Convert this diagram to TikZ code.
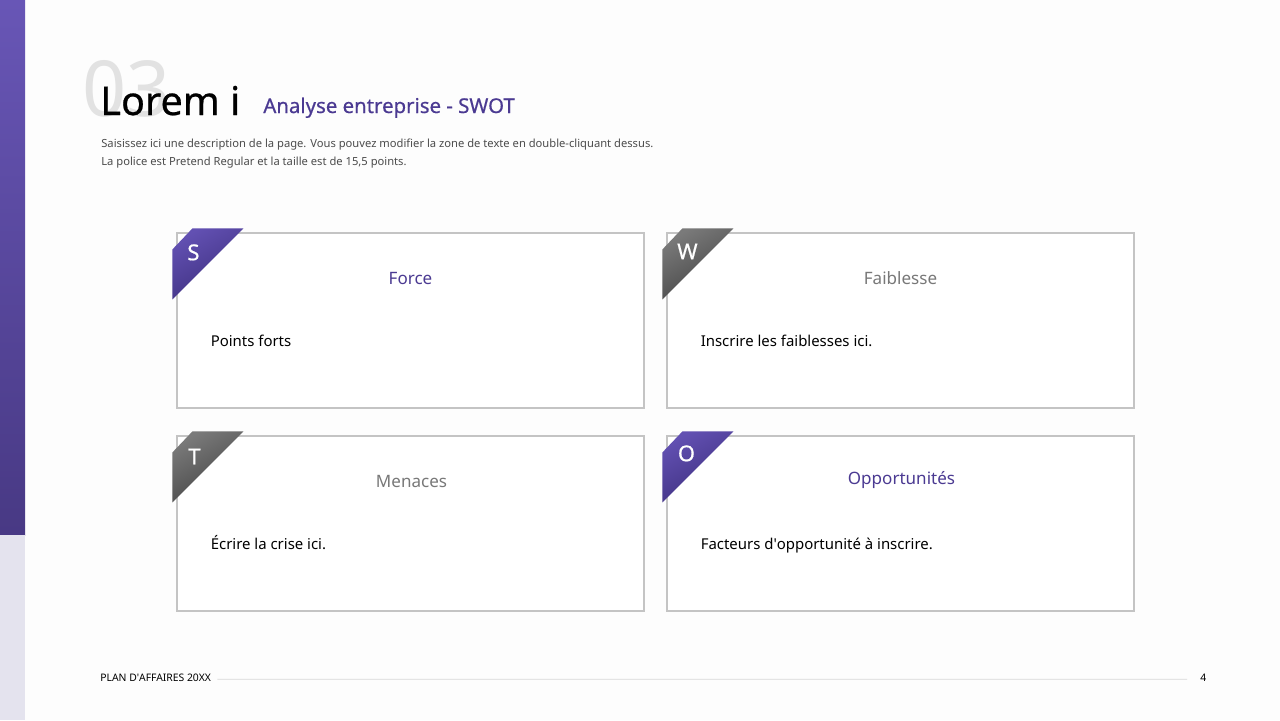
\documentclass[tikz,border=0pt]{standalone}
\definecolor{swot_page}{RGB}{253, 253, 253}
\definecolor{swot_bar_top}{RGB}{104, 86, 182}
\definecolor{swot_bar_low}{RGB}{72, 57, 132}
\definecolor{swot_lavender}{RGB}{228, 227, 238}
\definecolor{swot_violet}{RGB}{75, 58, 146}
\definecolor{swot_tab_top}{RGB}{98, 80, 178}
\definecolor{swot_tab_low}{RGB}{60, 46, 124}
\definecolor{swot_grey_top}{RGB}{122, 122, 122}
\definecolor{swot_grey_low}{RGB}{66, 66, 66}
\definecolor{swot_grey_text}{RGB}{120, 120, 120}
\definecolor{swot_border}{RGB}{196, 196, 196}
\definecolor{swot_ghost}{RGB}{226, 226, 226}
\definecolor{swot_rule}{RGB}{216, 216, 216}
\usepackage{fontspec}
\setmainfont{Noto Sans}
\newfontfamily\swotplain{Noto Sans}
\newfontfamily\swotmedium[FakeBold=0.6]{Noto Sans}
\usepackage{tikz}
\usetikzlibrary{calc}

\tikzset{
  card/.style={draw=swot_border, line width=0.7pt, fill=white,
               minimum width=9.34cm, minimum height=3.5cm, inner sep=0pt},
  cardtitle/.style={font=\fontsize{9.7}{12}\selectfont, inner sep=0pt},
  cardtext/.style={font=\fontsize{8.5}{11}\selectfont, anchor=base west, inner sep=0pt},
  tabletter/.style={font=\swotmedium\fontsize{12.5}{14}\selectfont, text=white, inner sep=0pt},
  tabviolet/.style={top color=swot_tab_top, bottom color=swot_tab_low, shading angle=30},
  tabgrey/.style={top color=swot_grey_top, bottom color=swot_grey_low, shading angle=30},
}

\begin{document}
\begin{tikzpicture}[x=0.02cm, y=-0.02cm]
  \fill[swot_page] (0,0) rectangle (1280,720);
  \useasboundingbox (0,0) rectangle (1280,720);
  % side bar
  \shade[top color=swot_bar_top, bottom color=swot_bar_low] (0,0) rectangle (25,535);
  \fill[swot_lavender] (0,535) rectangle (25,720);

  % heading
  \node[font=\fontsize{44}{46}\selectfont, text=swot_ghost, anchor=base west, inner sep=0pt]
    (ghost) at (82,116) {03};
  \node[font=\swotmedium\fontsize{22.5}{26}\selectfont, anchor=base west, inner sep=0pt]
    (title) at (100,115) {Lorem i};
  \node[font=\swotmedium\fontsize{11.6}{14}\selectfont, text=swot_violet, anchor=base west, inner sep=0pt]
    (subtitle) at (263,113) {Analyse entreprise - SWOT};
  \node[font=\fontsize{6.37}{10.2}\selectfont, text=black!70, anchor=north west,
        align=left, inner sep=0pt] (intro) at (101,139)
    {Saisissez ici une description de la page. Vous pouvez modifier la zone de texte en double-cliquant dessus.\\
     La police est Pretend Regular et la taille est de 15,5 points.};

  % cards
  \node[card] (force) at (410.5,320.5) {};
  \node[card] (faiblesse) at (900.5,320.5) {};
  \node[card] (menaces) at (410.5,523.5) {};
  \node[card] (opport) at (900.5,523.5) {};

  % corner ribbons
  \shade[tabviolet] ($(force.north west)+(16,-4)$) -- ++(51,0)
    -- ($(force.north west)+(-4,67)$) -- ++(0,-50) -- cycle;
  \shade[tabgrey] ($(faiblesse.north west)+(16,-4)$) -- ++(51,0)
    -- ($(faiblesse.north west)+(-4,67)$) -- ++(0,-50) -- cycle;
  \shade[tabgrey] ($(menaces.north west)+(16,-4)$) -- ++(51,0)
    -- ($(menaces.north west)+(-4,67)$) -- ++(0,-50) -- cycle;
  \shade[tabviolet] ($(opport.north west)+(16,-4)$) -- ++(51,0)
    -- ($(opport.north west)+(-4,67)$) -- ++(0,-50) -- cycle;
  \node[tabletter] (s) at ($(force.north west)+(17,20)$) {S};
  \node[tabletter] (w) at ($(faiblesse.north west)+(21,19)$) {W};
  \node[tabletter] (t) at ($(menaces.north west)+(18,21)$) {T};
  \node[tabletter] (o) at ($(opport.north west)+(20,18)$) {O};

  % card titles
  \node[cardtitle, text=swot_violet] (forcetitle) at ($(force.north)+(0,46)$) {Force};
  \node[cardtitle, text=swot_grey_text] (faiblessetitle) at ($(faiblesse.north)+(0,46)$) {Faiblesse};
  \node[cardtitle, text=swot_grey_text] (menacestitle) at ($(menaces.north)+(1,46)$) {Menaces};
  \node[cardtitle, text=swot_violet] (opporttitle) at ($(opport.north)+(1,45)$) {Opportunités};

  % card texts
  \node[cardtext] (forcetext) at ($(force.north west)+(34,114)$) {Points forts};
  \node[cardtext] (faiblessetext) at ($(faiblesse.north west)+(34,114)$) {Inscrire les faiblesses ici.};
  \node[cardtext] (menacestext) at ($(menaces.north west)+(34,114)$) {Écrire la crise ici.};
  \node[cardtext] (opporttext) at ($(opport.north west)+(34,114)$) {Facteurs d{\swotplain'}opportunité à inscrire.};

  % footer
  \node[font=\fontsize{5.9}{7}\selectfont, anchor=base west, inner sep=0pt]
    (footer) at (100,681) {PLAN D{\swotplain'}AFFAIRES 20XX};
  \node[font=\fontsize{5.9}{7}\selectfont, anchor=base west, inner sep=0pt]
    (pagenum) at (1200,681) {4};
  \draw[swot_rule, line width=0.5pt] ($(footer.east)+(6,2)$) -- ($(pagenum.west)+(-13,2)$);
\end{tikzpicture}
\end{document}
